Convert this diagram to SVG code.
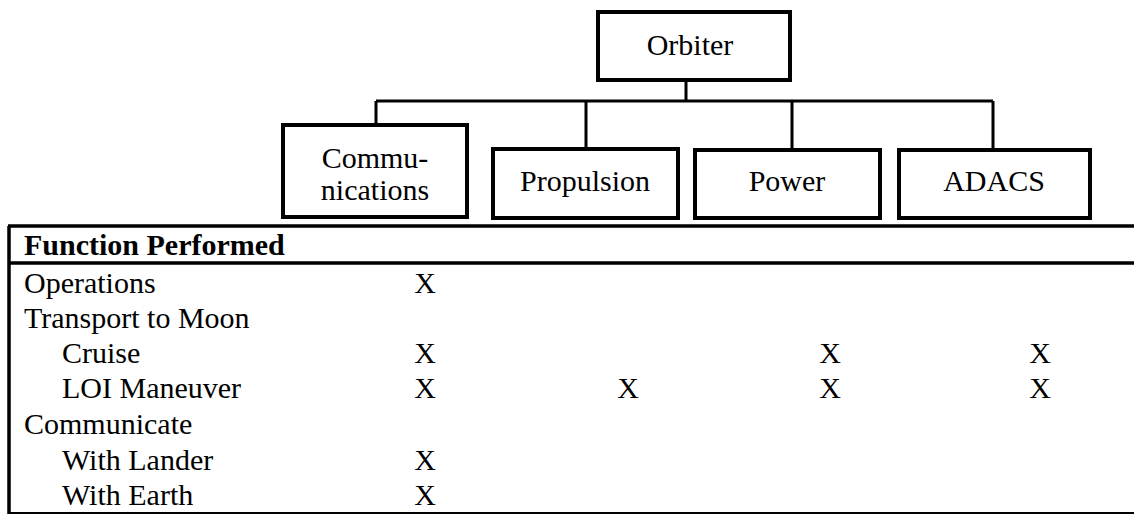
<svg xmlns="http://www.w3.org/2000/svg" width="1134" height="516" viewBox="0 0 1134 516">
<style>
.box{fill:#fff;stroke:#000;stroke-width:4}
.con{fill:none;stroke:#000;stroke-width:3}
.tl{fill:none;stroke:#000;stroke-width:3.5}
text{font-family:'Liberation Serif','Times New Roman',Times,serif;font-size:30px;font-weight:400;fill:#000}
.c{text-anchor:middle}
.b{font-weight:700}
</style>
<rect width="1134" height="516" fill="#fff"/>
<g id="connectors">
<path class="con" d="M686 80V101M376 101H993M376 101V125M586 101V149M792 101V150M993 101V150"/>
</g>
<g id="orbiter"><rect class="box" x="598" y="12" width="192" height="68"/><text class="c" x="690" y="55">Orbiter</text></g>
<g id="communications"><rect class="box" x="283" y="125" width="184" height="92"/><text class="c" x="375" y="168">Commu-</text><text class="c" x="375" y="200">nications</text></g>
<g id="propulsion"><rect class="box" x="493" y="149" width="185" height="69"/><text class="c" x="585" y="191">Propulsion</text></g>
<g id="power"><rect class="box" x="695" y="150" width="185" height="68"/><text class="c" x="787" y="191">Power</text></g>
<g id="adacs"><rect class="box" x="899" y="150" width="191" height="68"/><text class="c" x="994" y="191">ADACS</text></g>
<g id="table">
<path class="tl" d="M8 226H1134M8 263H1134M9 226V514"/>
<path d="M8 513H1134" stroke="#000" stroke-width="2"/>
<text class="b" x="24" y="255">Function Performed</text>
<text x="24" y="293">Operations</text>
<text x="24" y="328">Transport to Moon</text>
<text x="62" y="363">Cruise</text>
<text x="62" y="398">LOI Maneuver</text>
<text x="24" y="434">Communicate</text>
<text x="62" y="470">With Lander</text>
<text x="62" y="505">With Earth</text>
<text class="c" x="425" y="293">X</text>
<text class="c" x="425" y="363">X</text>
<text class="c" x="830" y="363">X</text>
<text class="c" x="1040" y="363">X</text>
<text class="c" x="425" y="398">X</text>
<text class="c" x="628" y="398">X</text>
<text class="c" x="830" y="398">X</text>
<text class="c" x="1040" y="398">X</text>
<text class="c" x="425" y="470">X</text>
<text class="c" x="425" y="505">X</text>
</g>
</svg>
